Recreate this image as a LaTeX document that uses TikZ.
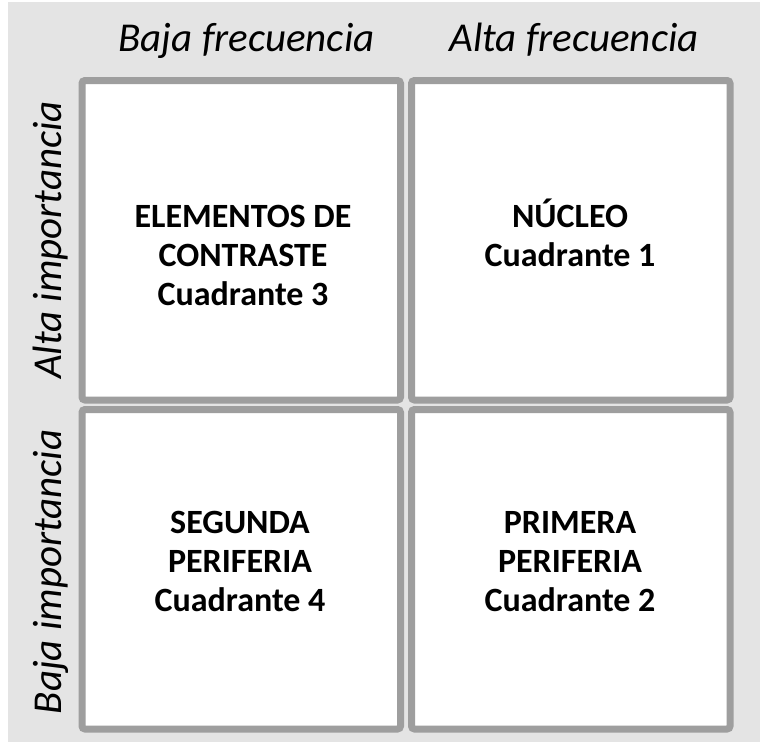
\documentclass[tikz,border=0pt]{standalone}
\usepackage{fontspec}
\setmainfont{Carlito}
\definecolor{bgc}{HTML}{E4E4E4}
\definecolor{bordc}{HTML}{9E9E9E}
\tikzset{
  quad/.style={draw=bordc, line width=7pt, fill=white, rounded corners=3pt, inner sep=0pt, outer sep=0pt, minimum width=318.5pt, minimum height=319.5pt},
  head/.style={font=\fontsize{41}{48}\selectfont\itshape, inner sep=0pt, anchor=base},
  qtext/.style={font=\fontsize{34}{39}\selectfont\bfseries, align=center, inner sep=0pt, anchor=base},
}
\begin{document}
\begin{tikzpicture}[x=1pt,y=-1pt]
\useasboundingbox (0,0) rectangle (760,742);
\fill[bgc] (8,2) rectangle (760,742);
\node[quad] (q3) at (241.25,240.25) {};
\node[quad] (q1) at (570.75,240.25) {};
\node[quad] (q4) at (241.25,569.25) {};
\node[quad] (q2) at (570.75,569.25) {};
\node[head] (h1) at (246.5,51) {Baja frecuencia};
\node[head] (h2) at (574,51) {Alta frecuencia};
\node[head, rotate=90] (v1) at (61,240) {Alta importancia};
\node[head, rotate=90] (v2) at (61,572) {Baja importancia};
\node[qtext] (t3) at (243,305) {ELEMENTOS DE\\CONTRASTE\\Cuadrante 3};
\node[qtext] (t1) at (570,266) {NÚCLEO\\Cuadrante 1};
\node[qtext] (t4) at (240,611) {SEGUNDA\\PERIFERIA\\Cuadrante 4};
\node[qtext] (t2) at (570,611) {PRIMERA\\PERIFERIA\\Cuadrante 2};
\end{tikzpicture}
\end{document}
